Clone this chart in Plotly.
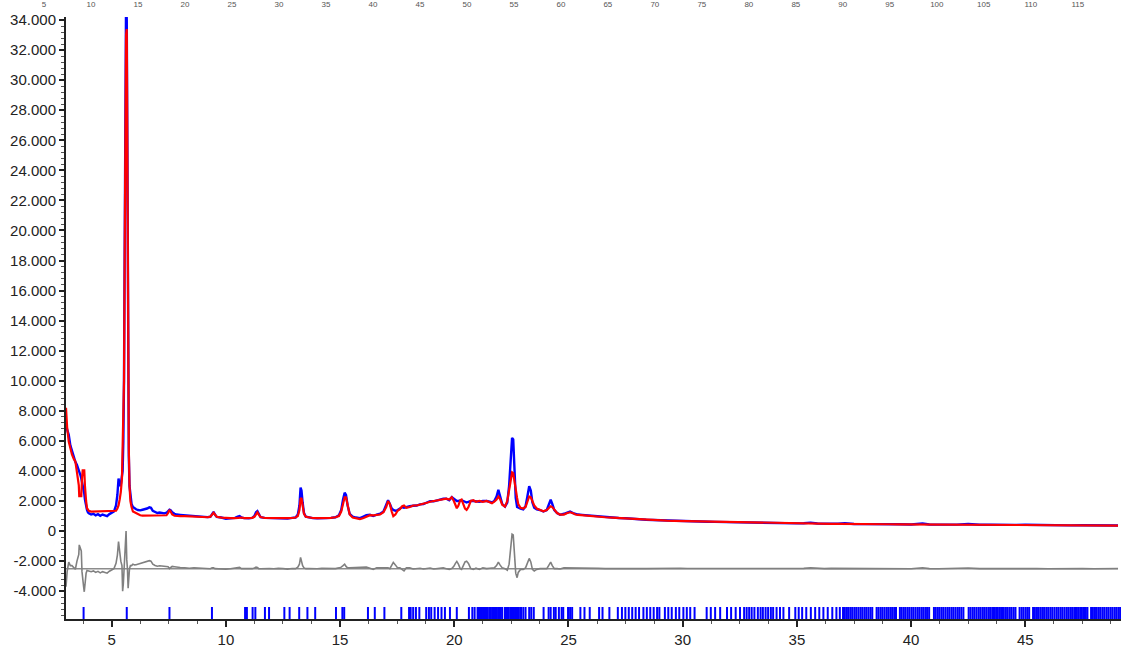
import plotly.graph_objects as go

# ---------------- data ----------------
two_theta = [
    3.00, 3.05, 3.12, 3.19, 3.26, 3.34, 3.41, 3.48, 3.53, 3.56, 3.58, 3.63, 3.67, 3.70, 3.73, 3.77, 3.80, 3.83, 3.85, 3.88, 3.92, 3.96, 4.00, 4.10, 4.20, 4.30,
    4.40, 4.50, 4.60, 4.70, 4.80, 4.90, 5.00,
    5.10, 5.19, 5.25, 5.30, 5.35, 5.40, 5.45, 5.48, 5.51, 5.54, 5.57, 5.60, 5.63, 5.66, 5.69, 5.72, 5.75, 5.78, 5.82, 5.87, 5.93, 6.00,
    6.07, 6.15, 6.25, 6.35, 6.45, 6.55, 6.65, 6.72, 6.80, 6.90, 7.00, 7.10, 7.20, 7.30, 7.40, 7.47, 7.53, 7.58, 7.65, 7.75, 7.85,
    8.00, 8.20, 8.40, 8.60, 8.80, 9.00, 9.20, 9.32, 9.40, 9.46, 9.52, 9.60, 9.80, 10.00, 10.20, 10.40, 10.52, 10.60, 10.68, 10.80,
    11.00, 11.15, 11.25, 11.32, 11.38, 11.44, 11.52, 11.70, 11.90, 12.10, 12.30, 12.50, 12.70, 12.90, 13.05, 13.15, 13.22, 13.27, 13.31, 13.36,
    13.42, 13.50, 13.65, 13.80, 14.00, 14.20, 14.40, 14.60, 14.80, 14.95, 15.05, 15.13, 15.20, 15.26, 15.33, 15.42, 15.55, 15.70, 15.87, 16.00,
    16.15, 16.31, 16.45, 16.60, 16.75, 16.90, 17.02, 17.10, 17.18, 17.26, 17.33, 17.42, 17.52, 17.62, 17.72, 17.80, 17.90, 18.05, 18.20, 18.35,
    18.50, 18.65, 18.80, 18.94, 19.10, 19.25, 19.40, 19.52, 19.65, 19.78, 19.89, 19.98, 20.05, 20.11, 20.18, 20.26, 20.32, 20.40, 20.47, 20.54,
    20.62, 20.72, 20.83, 20.95, 21.10, 21.25, 21.42, 21.55, 21.65, 21.75, 21.85, 21.93, 22.00, 22.10, 22.22, 22.32, 22.40, 22.47, 22.53, 22.58,
    22.63, 22.69, 22.75, 22.80, 22.90, 23.02, 23.12, 23.20, 23.28, 23.35, 23.42, 23.50, 23.61, 23.75, 23.90, 24.05, 24.15, 24.22, 24.29, 24.38,
    24.50, 24.63, 24.80, 24.95, 25.07, 25.20, 25.30, 25.42,
    25.60, 25.80, 26.00, 26.30, 26.60, 26.90, 27.20, 27.50, 27.80, 28.10, 28.40, 28.70, 29.00, 29.30, 29.60, 29.90, 30.20, 30.50, 30.80, 31.10,
    31.40, 31.70, 32.00, 32.30, 32.60, 32.90, 33.20, 33.50, 33.80, 34.10, 34.40, 34.70, 35.00, 35.30, 35.60, 35.90, 36.20, 36.50, 36.80, 37.10,
    37.50, 38.00, 38.50, 39.00, 39.50, 40.00, 40.50, 40.80, 41.20, 41.60, 42.00, 42.50, 43.00, 43.50, 44.00, 44.50, 45.00, 45.50, 46.00, 46.50,
    47.00, 47.50, 48.00, 48.50, 49.06,
]

y_obs = [
    7000, 6700, 6400, 5700, 5300, 4850, 4600, 4400, 4200, 4000, 3900, 3730, 3500, 3300, 3100, 2850, 2500, 2100, 1900, 1700, 1400, 1250, 1180, 1100, 1150, 1050,
    1120, 1020, 1100, 1050, 1000, 1130, 1200,
    1300, 1700, 2400, 3500, 3000, 3100, 3700, 4000, 6000, 10000, 19000, 30000, 35500, 34000, 21000, 10000, 5000, 3000, 2200, 1800, 1600, 1500,
    1450, 1400, 1380, 1420, 1450, 1500, 1580, 1550, 1350, 1250, 1200, 1230, 1200, 1180, 1220, 1330, 1420, 1380, 1250, 1150, 1100,
    1080, 1050, 1000, 1020, 980, 950, 930, 950, 1150, 1280, 1100, 940, 900, 820, 850, 880, 960, 1000, 900, 860,
    850, 880, 1000, 1250, 1330, 1100, 920, 880, 870, 850, 880, 860, 830, 880, 900, 1100, 1700, 2900, 2700, 1900,
    1200, 950, 900, 860, 850, 880, 860, 880, 920, 1050, 1400, 2100, 2550, 2400, 1700, 1150, 960, 900, 860, 950,
    1050, 1080, 1000, 1100, 1150, 1300, 1700, 2050, 1800, 1500, 1410, 1350, 1400, 1500, 1600, 1550, 1600, 1650, 1680, 1700,
    1780, 1800, 1900, 1990, 1980, 2050, 2100, 2150, 2150, 2050, 2250, 2150, 2050, 2000, 2000, 2050, 2050, 2000, 1950, 1900,
    1950, 2000, 2000, 1980, 1950, 2000, 2000, 1950, 1900, 2000, 2300, 2740, 2400, 1800, 1630, 1900, 3000, 4800, 6200, 6100,
    4000, 2200, 1600, 1550, 1500, 1450, 1650, 2300, 2980, 2700, 1900, 1550, 1450, 1400, 1300, 1400, 1800, 2080, 1800, 1400,
    1200, 1080, 1150, 1250, 1300, 1200, 1150, 1100,
    1080, 1050, 1000, 980, 920, 900, 870, 850, 800, 780, 750, 740, 720, 700, 690, 700, 660, 650, 640, 620,
    610, 600, 580, 590, 570, 560, 560, 550, 540, 530, 530, 520, 510, 520, 560, 500, 490, 500, 490, 520,
    470, 460, 470, 450, 450, 440, 500, 440, 430, 440, 430, 470, 420, 430, 400, 410, 420, 400, 390, 400,
    380, 390, 370, 360, 370,
]

y_calc = [
    8200, 6900, 5960, 5500, 5100, 4800, 4640, 3900, 3300, 3050, 2320, 2320, 2320, 3500, 4040, 4040, 4040, 3000, 2390, 2000, 1520, 1400, 1350, 1300, 1300, 1300,
    1300, 1300, 1300, 1300, 1300, 1300, 1300,
    1300, 1350, 1500, 1700, 2100, 2600, 3500, 5500, 7000, 10000, 18500, 28000, 33000, 33400, 21000, 11300, 5500, 3000, 2000, 1600, 1300, 1250,
    1190, 1100, 1050, 1030, 1030, 1050, 1050, 1050, 1050, 1040, 1040, 1040, 1030, 1030, 1050, 1200, 1410, 1300, 1100, 1020, 1000,
    1000, 990, 970, 960, 950, 940, 920, 960, 1100, 1220, 1100, 950, 900, 860, 860, 860, 880, 920, 900, 860,
    850, 880, 950, 1150, 1250, 1100, 930, 870, 860, 860, 860, 860, 860, 870, 900, 1000, 1400, 2150, 2200, 1700,
    1150, 950, 900, 870, 860, 860, 860, 880, 920, 1000, 1300, 1900, 2250, 2250, 1650, 1100, 900, 830, 800, 850,
    950, 1060, 1050, 1050, 1100, 1250, 1600, 1990, 1800, 1300, 990, 1100, 1350, 1450, 1650, 1700, 1550, 1600, 1700, 1700,
    1750, 1820, 1880, 1950, 2000, 2050, 2080, 2100, 2150, 2100, 2250, 2000, 1700, 1520, 1700, 2050, 2100, 1800, 1500, 1410,
    1600, 2000, 2050, 1950, 2000, 1950, 2000, 1920, 1850, 1950, 2100, 2300, 2150, 1750, 1630, 2000, 2700, 3500, 3900, 3850,
    3300, 2500, 2200, 1800, 1550, 1500, 1600, 1950, 2300, 2250, 1950, 1700, 1500, 1400, 1320, 1400, 1550, 1650, 1600, 1400,
    1200, 1100, 1100, 1200, 1250, 1180, 1100, 1080,
    1050, 1020, 990, 960, 920, 890, 860, 840, 800, 780, 750, 730, 710, 690, 680, 670, 650, 640, 630, 620,
    610, 600, 590, 580, 570, 560, 555, 545, 540, 530, 525, 520, 510, 505, 500, 495, 490, 485, 480, 470,
    470, 465, 460, 455, 450, 445, 440, 440, 435, 430, 430, 425, 420, 420, 415, 410, 405, 400, 395, 390,
    385, 380, 375, 370, 365,
]

# reflection (Bragg) positions, 2-theta
reflections = [
    3.77, 5.66, 7.53, 9.39, 10.84, 10.92, 11.17, 11.29, 11.71, 11.89, 12.56, 12.79, 13.21, 13.57, 13.91,
    14.82, 15.10, 15.18, 16.22, 16.52, 16.94, 17.68, 18.02, 18.09, 18.20, 18.32, 18.47, 18.77, 18.89, 18.99,
    19.14, 19.29, 19.44, 19.59, 19.81, 20.11, 20.64, 20.79, 20.89, 21.02, 21.08, 21.13, 21.17, 21.21, 21.26,
    21.30, 21.36, 21.42, 21.47, 21.55, 21.60, 21.66, 21.71, 21.76, 21.80, 21.86, 21.92, 21.97, 22.04, 22.10,
    22.22, 22.27, 22.34, 22.38, 22.45, 22.50, 22.56, 22.61, 22.66, 22.72, 22.78, 22.83, 22.92, 23.02, 23.12,
    23.28, 23.37, 23.48, 23.91, 24.13, 24.22, 24.36, 24.44, 24.58, 24.70, 24.77, 24.98, 25.07, 25.16, 25.52,
    25.70, 25.93, 26.34, 26.49, 26.79, 27.16, 27.34, 27.49, 27.64, 27.79, 27.94, 28.09, 28.28, 28.43, 28.58,
    28.73, 28.88, 28.98, 29.22, 29.37, 29.52, 29.70, 29.85, 30.03, 30.18, 30.33, 30.52, 31.05, 31.23, 31.42,
    31.64, 31.94, 32.12, 32.32, 32.51, 32.69, 32.80, 32.91, 33.02, 33.14, 33.29, 33.41, 33.51, 33.63, 33.74,
    33.86, 33.96, 34.11, 34.26, 34.41, 34.66, 34.93, 35.08, 35.23, 35.41, 35.61, 35.80, 35.98, 36.16, 36.35,
    36.55, 36.73, 36.88, 37.02, 37.10, 37.19, 37.27, 37.36, 37.44, 37.53, 37.61, 37.70, 37.79, 37.87, 37.96,
    38.04, 38.13, 38.22, 38.30, 38.49, 38.57, 38.66, 38.74, 38.83, 38.92, 39.00, 39.09, 39.17, 39.26, 39.34,
    39.51, 39.59, 39.68, 39.76, 39.85, 39.93, 40.02, 40.10, 40.19, 40.28, 40.36, 40.45, 40.53, 40.62, 40.70,
    40.79, 41.00, 41.08, 41.17, 41.25, 41.34, 41.42, 41.51, 41.60, 41.68, 41.77, 41.85, 41.94, 42.03, 42.11,
    42.20, 42.29, 42.52, 42.60, 42.69, 42.77, 42.86, 42.95, 43.03, 43.12, 43.20, 43.29, 43.38, 43.46, 43.55,
    43.63, 43.72, 43.80, 43.89, 43.98, 44.06, 44.15, 44.23, 44.32, 44.40, 44.49, 44.57, 44.75, 44.84, 44.92,
    45.01, 45.09, 45.17, 45.34, 45.42, 45.51, 45.59, 45.68, 45.77, 45.85, 45.94, 46.02, 46.11, 46.19, 46.28,
    46.37, 46.45, 46.54, 46.62, 46.71, 46.80, 46.88, 46.97, 47.05, 47.14, 47.22, 47.31, 47.40, 47.48, 47.57,
    47.65, 47.72, 47.88, 47.96, 48.05, 48.13, 48.22, 48.30, 48.39, 48.47, 48.56, 48.64, 48.73, 48.81, 48.90,
    48.98, 49.07, 49.15,
]

y_tick_values = [-4000, -2000, 0, 2000, 4000, 6000, 8000, 10000, 12000, 14000, 16000, 18000,
                 20000, 22000, 24000, 26000, 28000, 30000, 32000, 34000]
x_tick_values = [5, 10, 15, 20, 25, 30, 35, 40, 45]
top_tick_values = [5, 10, 15, 20, 25, 30, 35, 40, 45, 50, 55, 60, 65, 70, 75, 80, 85, 90,
                   95, 100, 105, 110, 115]
top_range = [0.32, 119.6]

diff_offset = -2500
refl_top = -5050
refl_bottom = -5850

assert len(two_theta) == len(y_obs) == len(y_calc), (len(two_theta), len(y_obs), len(y_calc))

# ---------------- derived ----------------
y_tick_text = [f"{v:,}".replace(",", ".") for v in y_tick_values]
y_diff = [o - c + diff_offset for o, c in zip(y_obs, y_calc)]

refl_x, refl_y = [], []
for t in reflections:
    refl_x += [t, t, None]
    refl_y += [refl_top, refl_bottom, None]

FONT = "Liberation Sans, Arial, sans-serif"
AXC = "#222222"

fig = go.Figure()
fig.add_trace(go.Scatter(x=[two_theta[0], two_theta[-1]], y=[diff_offset, diff_offset], mode="lines",
                         line=dict(color="#8c8c8c", width=1.5), hoverinfo="skip"))
fig.add_trace(go.Scatter(x=two_theta, y=y_diff, mode="lines",
                         line=dict(color="#808080", width=1.6), name="Yobs-Ycalc"))
fig.add_trace(go.Scatter(x=refl_x, y=refl_y, mode="lines",
                         line=dict(color="#0000FF", width=2.0), name="Bragg"))
fig.add_trace(go.Scatter(x=two_theta, y=y_obs, mode="lines",
                         line=dict(color="#0000FF", width=2.4), name="Yobs"))
fig.add_trace(go.Scatter(x=two_theta, y=y_calc, mode="lines",
                         line=dict(color="#FF0000", width=2.2), name="Ycalc"))
# invisible carrier so the top scale (separate thin inset subplot) gets drawn
fig.add_trace(go.Scatter(x=top_range, y=[0, 0], xaxis="x2", yaxis="y2",
                         mode="markers", marker=dict(opacity=0, size=1), hoverinfo="skip"))

fig.update_layout(
    width=1121, height=648, autosize=False,
    margin=dict(l=0, r=0, t=17, b=26, pad=0),
    paper_bgcolor="white", plot_bgcolor="rgba(0,0,0,0)",
    showlegend=False,
    font=dict(family=FONT, color=AXC),
    xaxis=dict(
        domain=[66 / 1121, 1], range=[3.0, 49.19], anchor="y",
        showline=True, linecolor=AXC, linewidth=1.5,
        ticks="outside", ticklen=6, tickwidth=1.5, tickcolor=AXC,
        tickmode="array", tickvals=x_tick_values,
        tickfont=dict(size=15, color=AXC),
        minor=dict(dtick=1.25, ticks="outside", ticklen=3, tickwidth=1, tickcolor="#555555"),
        showgrid=False, zeroline=False,
    ),
    yaxis=dict(
        domain=[0, 1], range=[refl_bottom, 34200], anchor="x",
        showline=True, linecolor=AXC, linewidth=2,
        ticks="outside", ticklen=5, tickwidth=1.5, tickcolor=AXC,
        tickmode="array", tickvals=y_tick_values, ticktext=y_tick_text,
        tickfont=dict(size=15, color=AXC),
        minor=dict(dtick=400, ticks="outside", ticklen=3, tickwidth=1, tickcolor="#555555"),
        showgrid=False, zeroline=False,
    ),
    xaxis2=dict(
        domain=[0, 1], range=top_range, anchor="y2", side="top",
        showline=False, ticks="outside", ticklen=6, tickcolor="rgba(0,0,0,0)",
        tickmode="array", tickvals=top_tick_values,
        tickfont=dict(size=8, color="#555555"),
        showgrid=False, zeroline=False,
    ),
    yaxis2=dict(domain=[0.995, 1], anchor="x2", visible=False, range=[-1, 1]),
)

fig.write_html("out.html", config={"displayModeBar": False},
               post_script="document.body.style.margin='0';document.body.style.overflow='hidden';")
